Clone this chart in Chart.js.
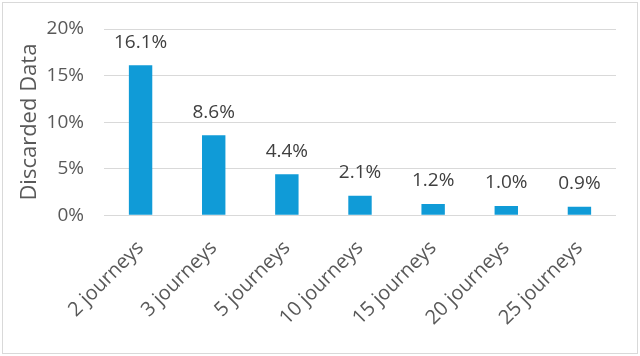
<!DOCTYPE html>
<html>
<head>
<meta charset="utf-8">
<script src="https://cdn.jsdelivr.net/npm/chart.js@4"></script>
<style>
  html, body { margin: 0; padding: 0; background: #fff; }
  #wrap { position: absolute; left: 2px; top: 2px; width: 634px; height: 350px; border: 1px solid #d9d9d9; }
  canvas { display: block; }
</style>
</head>
<body>
<div id="wrap"><canvas id="bar-chart" width="634" height="350"></canvas></div>
<script>
const categories = ['2 journeys', '3 journeys', '5 journeys', '10 journeys', '15 journeys', '20 journeys', '25 journeys'];
const discarded = [16.1, 8.6, 4.4, 2.1, 1.2, 1.0, 0.9];
const yTicks = [0, 5, 10, 15, 20];

const textColor = '#595959';
const fontFamily = '"Open Sans", "Liberation Sans", sans-serif';

// draws the value over each bar
const valueLabels = {
    id: 'valueLabels',
    afterDatasetsDraw(chart) {
        const ctx = chart.ctx;
        const meta = chart.getDatasetMeta(0);
        ctx.save();
        ctx.font = '19px ' + fontFamily;
        ctx.fillStyle = '#404040';
        ctx.textAlign = 'center';
        ctx.textBaseline = 'middle';
        meta.data.forEach((bar, i) => {
            ctx.fillText(discarded[i].toFixed(1) + '%', bar.x, bar.y - 23);
        });
        ctx.restore();
    }
};

const barChart = new Chart(document.getElementById('bar-chart'), {
    type: 'bar',
    data: {
        labels: categories,
        datasets: [{
            label: 'Discarded Data',
            data: discarded,
            backgroundColor: 'rgb(16,155,215)',
            borderWidth: 0,
            barPercentage: 0.32,
            categoryPercentage: 1
        }]
    },
    options: {
        responsive: false,
        animation: false,
        layout: { padding: { left: 14, right: 21, top: 26, bottom: 10 } },
        plugins: {
            legend: { display: false },
            tooltip: { enabled: false }
        },
        scales: {
            x: {
                grid: { display: false },
                border: { display: false },
                afterFit: scale => { scale.paddingLeft = 0; scale.paddingRight = 0; },
                ticks: {
                    color: textColor,
                    font: { family: fontFamily, size: 20 },
                    minRotation: 45,
                    maxRotation: 45,
                    padding: 13
                }
            },
            y: {
                min: 0,
                max: 20,
                afterBuildTicks: axis => { axis.ticks = yTicks.map(v => ({ value: v })); },
                afterFit: scale => {
                    scale.width = 87;
                    scale.paddingTop = 0;
                    scale.paddingBottom = 0;
                },
                grid: { color: '#d9d9d9', drawTicks: false },
                border: { display: false },
                ticks: {
                    color: textColor,
                    font: { family: fontFamily, size: 19 },
                    padding: 20,
                    callback: v => v + '%'
                },
                title: {
                    display: true,
                    text: 'Discarded Data',
                    color: textColor,
                    font: { family: fontFamily, size: 22 },
                    padding: { top: 0, bottom: 4 }
                }
            }
        }
    },
    plugins: [valueLabels]
});
</script>
</body>
</html>
